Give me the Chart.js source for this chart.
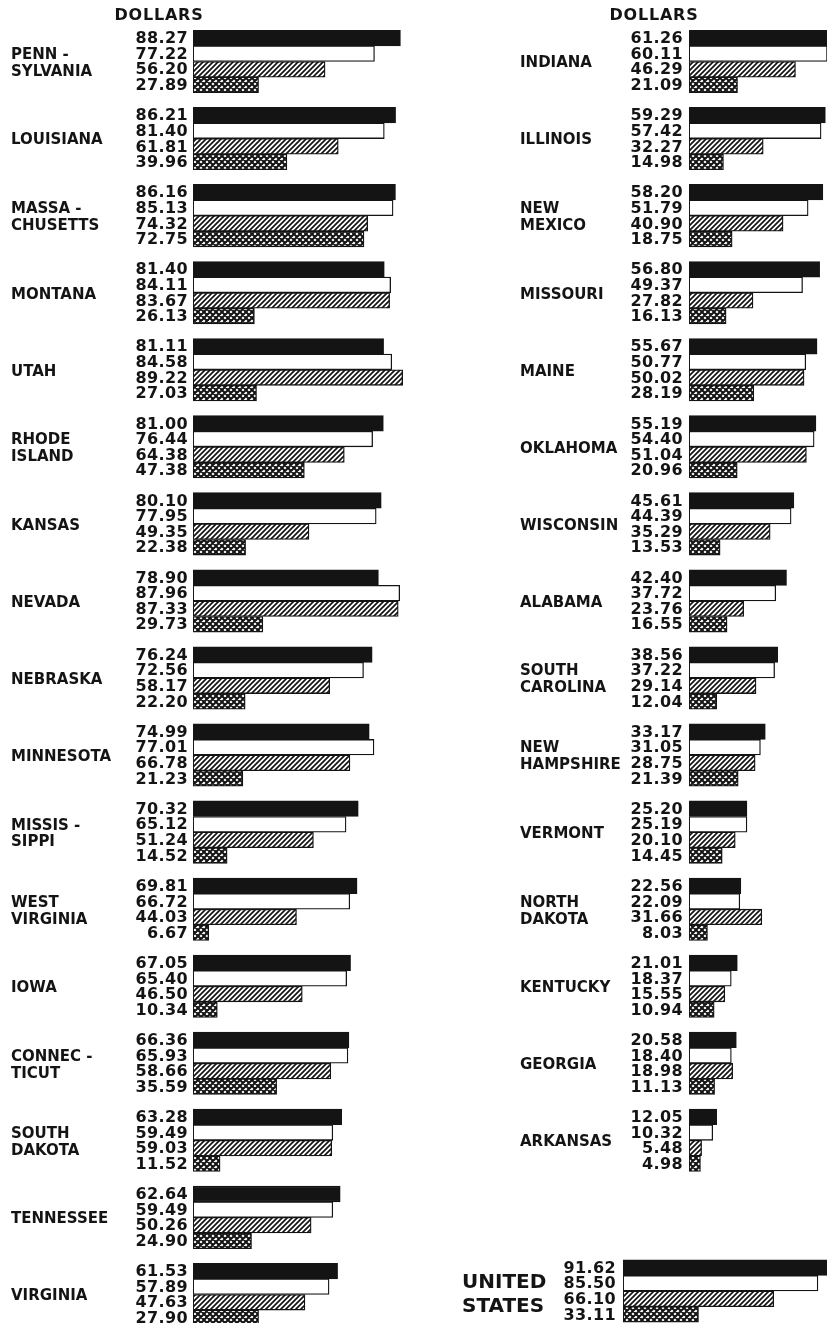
<!DOCTYPE html>
<html>
<head>
<meta charset="utf-8">
<script src="https://cdn.jsdelivr.net/npm/chart.js@4.4.1/dist/chart.umd.min.js"></script>
<style>
  html, body { margin: 0; padding: 0; background: #fff; }
  #page { position: relative; width: 827px; height: 1323px; overflow: hidden; background: #fff; }
  #page canvas { position: absolute; left: 0; top: 0; }
</style>
</head>
<body>
<div id="page">
  <canvas id="left" width="960" height="1400"></canvas>
  <canvas id="right" width="960" height="1400"></canvas>
  <canvas id="us" width="960" height="1400"></canvas>
</div>
<script>
// left column, top to bottom
const leftStates = [['PENN -', 'SYLVANIA'], 'LOUISIANA', ['MASSA -', 'CHUSETTS'], 'MONTANA', 'UTAH',
  ['RHODE', 'ISLAND'], 'KANSAS', 'NEVADA', 'NEBRASKA', 'MINNESOTA', ['MISSIS -', 'SIPPI'],
  ['WEST', 'VIRGINIA'], 'IOWA', ['CONNEC -', 'TICUT'], ['SOUTH', 'DAKOTA'], 'TENNESSEE', 'VIRGINIA']
const leftSolid   = [88.27, 86.21, 86.16, 81.40, 81.11, 81.00, 80.10, 78.90, 76.24, 74.99, 70.32, 69.81, 67.05, 66.36, 63.28, 62.64, 61.53]
const leftOpen    = [77.22, 81.40, 85.13, 84.11, 84.58, 76.44, 77.95, 87.96, 72.56, 77.01, 65.12, 66.72, 65.40, 65.93, 59.49, 59.49, 57.89]
const leftHatched = [56.20, 61.81, 74.32, 83.67, 89.22, 64.38, 49.35, 87.33, 58.17, 66.78, 51.24, 44.03, 46.50, 58.66, 59.03, 50.26, 47.63]
const leftCrossed = [27.89, 39.96, 72.75, 26.13, 27.03, 47.38, 22.38, 29.73, 22.20, 21.23, 14.52, 6.67, 10.34, 35.59, 11.52, 24.90, 27.90]

// right column, top to bottom
const rightStates = ['INDIANA', 'ILLINOIS', ['NEW', 'MEXICO'], 'MISSOURI', 'MAINE', 'OKLAHOMA', 'WISCONSIN',
  'ALABAMA', ['SOUTH', 'CAROLINA'], ['NEW', 'HAMPSHIRE'], 'VERMONT', ['NORTH', 'DAKOTA'], 'KENTUCKY',
  'GEORGIA', 'ARKANSAS']
const rightSolid   = [61.26, 59.29, 58.20, 56.80, 55.67, 55.19, 45.61, 42.40, 38.56, 33.17, 25.20, 22.56, 21.01, 20.58, 12.05]
const rightOpen    = [60.11, 57.42, 51.79, 49.37, 50.77, 54.40, 44.39, 37.72, 37.22, 31.05, 25.19, 22.09, 18.37, 18.40, 10.32]
const rightHatched = [46.29, 32.27, 40.90, 27.82, 50.02, 51.04, 35.29, 23.76, 29.14, 28.75, 20.10, 31.66, 15.55, 18.98, 5.48]
const rightCrossed = [21.09, 14.98, 18.75, 16.13, 28.19, 20.96, 13.53, 16.55, 12.04, 21.39, 14.45, 8.03, 10.94, 11.13, 4.98]

// national total
const usLabel   = [['UNITED', 'STATES']]
const usSolid   = [91.62]
const usOpen    = [85.50]
const usHatched = [66.10]
const usCrossed = [33.11]

const INK = '#141414'
const FONT = '"DejaVu Sans", sans-serif'
const SLOT = 77.06       // height of one state group slot
const TOP = 22.97        // top of the first slot
const BAR = 15.6         // thickness of one bar
const CANVAS_W = 960
const CANVAS_H = 1400

function makePattern(size, draw) {
  const c = document.createElement('canvas')
  c.width = c.height = size
  const g = c.getContext('2d')
  g.fillStyle = '#fff'
  g.fillRect(0, 0, size, size)
  g.strokeStyle = INK
  draw(g, size)
  return g.createPattern(c, 'repeat')
}

// "/" stripes
const hatch = makePattern(5, (g, s) => {
  g.lineWidth = 1.7
  g.beginPath()
  for (let k = -s; k <= 2 * s; k += s) {
    g.moveTo(k - 1, s + 1); g.lineTo(k + s + 1, -1)
  }
  g.stroke()
})

// criss-cross
const cross = makePattern(6, (g, s) => {
  g.lineWidth = 2.0
  g.beginPath()
  for (let k = -s; k <= 2 * s; k += s) {
    g.moveTo(k - 1, s + 1); g.lineTo(k + s + 1, -1)
    g.moveTo(k - 1, -1); g.lineTo(k + s + 1, s + 1)
  }
  g.stroke()
})

// draws the figure left of each bar, and the DOLLARS heading
const valueLabels = {
  id: 'valueLabels',
  afterDatasetsDraw(chart, args, opts) {
    const { ctx, chartArea } = chart
    ctx.save()
    ctx.fillStyle = INK
    ctx.font = 'bold 16px ' + FONT
    ctx.letterSpacing = '0.4px'
    ctx.textAlign = 'right'
    ctx.textBaseline = 'middle'
    chart.data.datasets.forEach((ds, i) => {
      chart.getDatasetMeta(i).data.forEach((bar, j) => {
        ctx.fillText(ds.data[j].toFixed(2), chartArea.left - opts.gap, bar.y + 1)
      })
    })
    if (opts.header) {
      ctx.textAlign = 'center'
      ctx.letterSpacing = '0.8px'
      ctx.fillText(opts.header, chartArea.left - opts.headerShift, 16)
    }
    ctx.restore()
  }
}

function columnChart(id, labels, series, o) {
  const n = labels.length
  const left = o.labelX + o.axisWidth
  const bottom = CANVAS_H - o.top - n * SLOT
  const right = CANVAS_W - left - o.pxPerDollar * 100
  const styles = [
    { backgroundColor: INK },
    { backgroundColor: '#fff' },
    { backgroundColor: hatch },
    { backgroundColor: cross },
  ]
  return new Chart(document.getElementById(id), {
    type: 'bar',
    data: {
      labels: labels,
      datasets: series.map((data, i) => ({
        data: data,
        ...styles[i],
        borderColor: INK,
        borderWidth: 1.3,
        borderSkipped: false,
        barThickness: BAR,
      })),
    },
    options: {
      indexAxis: 'y',
      responsive: false,
      animation: false,
      events: [],
      layout: { padding: { left: o.labelX, right: right, top: o.top, bottom: bottom } },
      scales: {
        x: { display: false, min: 0, max: 100 },
        y: {
          grid: { display: false, drawTicks: false },
          border: { display: false },
          afterFit(scale) { scale.width = o.axisWidth },
          ticks: {
            autoSkip: false,
            crossAlign: 'far',
            color: INK,
            labelOffset: o.labelOffset,
            font: { family: FONT, size: o.labelSize, weight: 'bold', lineHeight: o.lineHeight },
          },
        },
      },
      plugins: {
        legend: { display: false },
        tooltip: { enabled: false },
        valueLabels: { gap: o.gap, header: o.header, headerShift: o.headerShift },
      },
    },
    plugins: [valueLabels],
  })
}

columnChart('left', leftStates, [leftSolid, leftOpen, leftHatched, leftCrossed], {
  labelX: 11, axisWidth: 182, top: TOP, pxPerDollar: 2.35,
  labelSize: 15, lineHeight: 1.13, labelOffset: 2,
  gap: 5, header: 'DOLLARS', headerShift: 34,
})

columnChart('right', rightStates, [rightSolid, rightOpen, rightHatched, rightCrossed], {
  labelX: 520, axisWidth: 169, top: TOP, pxPerDollar: 2.3,
  labelSize: 15, lineHeight: 1.13, labelOffset: 2,
  gap: 6, header: 'DOLLARS', headerShift: 35,
})

columnChart('us', usLabel, [usSolid, usOpen, usHatched, usCrossed], {
  labelX: 462, axisWidth: 161, top: 1252.5, pxPerDollar: 2.28,
  labelSize: 20, lineHeight: 1.2, labelOffset: 4,
  gap: 7, header: null, headerShift: 0,
})
</script>
</body>
</html>
